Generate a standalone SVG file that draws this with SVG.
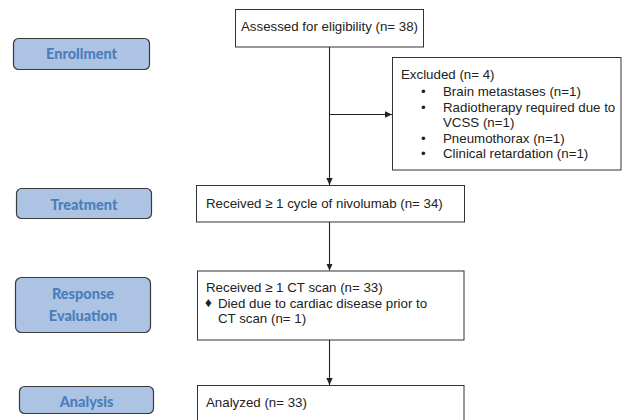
<svg xmlns="http://www.w3.org/2000/svg" width="626" height="420" viewBox="0 0 626 420">
<defs>
<marker id="arr" markerWidth="8" markerHeight="8" refX="7" refY="4" orient="auto" markerUnits="userSpaceOnUse">
<path d="M0,0.8 L7,4 L0,7.2 Z" fill="#222"/>
</marker>
<style>
.stage rect{fill:#adc3e4;stroke:#3a3a3a;stroke-width:1.2}
.stage text{font-family:Lato,"Open Sans",sans-serif;font-weight:900;font-size:14.5px;fill:#4a7ebb;text-anchor:middle}
.box rect{fill:#fff;stroke:#333;stroke-width:1}
.box text{font-family:"Liberation Sans",Arial,sans-serif;font-size:13.3px;fill:#222}
.conn line{stroke:#222;stroke-width:1.1;marker-end:url(#arr)}
</style>
</defs>
<rect width="626" height="420" fill="#fff"/>
<g id="enrollment" class="stage"><rect x="13.5" y="38.5" width="136" height="31" rx="5"/><text x="81.5" y="58.5">Enrollment</text></g>
<g id="treatment" class="stage"><rect x="16.5" y="188.5" width="135" height="30" rx="5"/><text x="84" y="210">Treatment</text></g>
<g id="response" class="stage"><rect x="15.5" y="277.5" width="135" height="55" rx="6"/><text x="83" y="299">Response</text><text x="83" y="321">Evaluation</text></g>
<g id="analysis" class="stage"><rect x="19.5" y="386.5" width="134" height="27" rx="5"/><text x="86.5" y="407">Analysis</text></g>
<g id="assessed" class="box"><rect x="235.5" y="9.5" width="188" height="37.5"/><text x="241" y="30.5">Assessed for eligibility (n= 38)</text></g>
<g id="excluded" class="box"><rect x="392.5" y="57.5" width="228.5" height="112.5"/>
<text x="401" y="79">Excluded (n= 4)</text>
<text x="421" y="96" font-size="12">•</text><text x="443" y="96">Brain metastases (n=1)</text>
<text x="421" y="111.5" font-size="12">•</text><text x="443" y="111.5">Radiotherapy required due to</text>
<text x="443" y="127">VCSS (n=1)</text>
<text x="421" y="142.5" font-size="12">•</text><text x="443" y="142.5">Pneumothorax (n=1)</text>
<text x="421" y="158" font-size="12">•</text><text x="443" y="158">Clinical retardation (n=1)</text></g>
<g id="received" class="box"><rect x="196.5" y="185.5" width="268" height="36.5"/><text x="206" y="207.5">Received ≥ 1 cycle of nivolumab (n= 34)</text></g>
<g id="ctscan" class="box"><rect x="197.5" y="271" width="266.5" height="69"/>
<text x="206" y="291.5">Received ≥ 1 CT scan (n= 33)</text>
<text x="205" y="306.5" font-size="7.5">♦</text><text x="218" y="307.5">Died due to cardiac disease prior to</text>
<text x="218" y="322.5">CT scan (n= 1)</text></g>
<g id="analyzed" class="box"><rect x="197.5" y="385.5" width="266.5" height="45"/><text x="206" y="406.5">Analyzed (n= 33)</text></g>
<g id="connectors" class="conn">
<line x1="329.5" y1="47" x2="329.5" y2="185"/>
<line x1="329.5" y1="114.5" x2="392" y2="114.5"/>
<line x1="329.5" y1="222" x2="329.5" y2="270.5"/>
<line x1="329.5" y1="340" x2="329.5" y2="385"/>
</g>
</svg>
